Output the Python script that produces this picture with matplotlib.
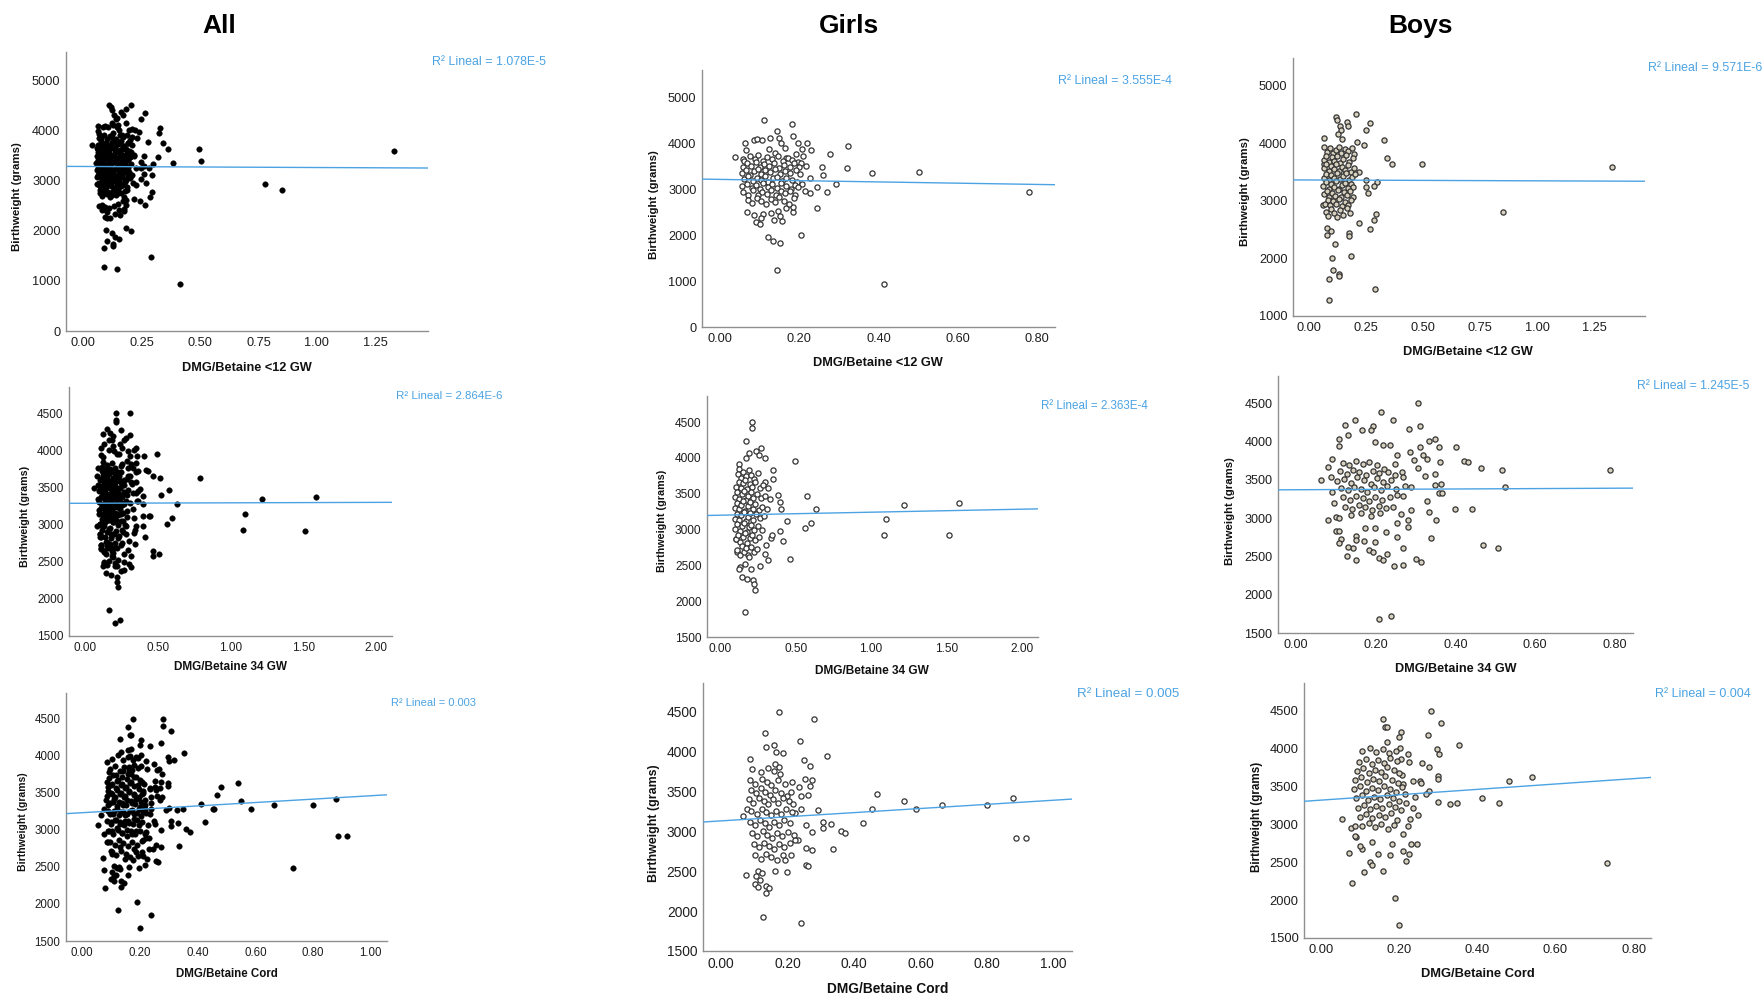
import matplotlib
matplotlib.use("Agg")
import matplotlib.pyplot as plt
import numpy as np

plt.rcParams['font.family'] = ['Liberation Sans', 'DejaVu Sans']

# ---------------- DATA ----------------
col_titles = ["All", "Girls", "Boys"]
x_labels = ["DMG/Betaine <12 GW", "DMG/Betaine 34 GW", "DMG/Betaine Cord"]
y_label = "Birthweight (grams)"

# Girls, <12 GW  (x = DMG/Betaine ratio, y = birthweight g)
girls_12 = [
    (0.112, 4500), (0.182, 4424), (0.143, 4252), (0.185, 4144), (0.324, 3942), (0.220, 4007),
    (0.231, 3856), (0.208, 3863), (0.278, 3763), (0.209, 3712), (0.038, 3698), (0.320, 3468),
    (0.258, 3489), (0.217, 3496), (0.384, 3353), (0.503, 3381), (0.261, 3295), (0.227, 3245),
    (0.294, 3108), (0.246, 3036), (0.270, 2942), (0.779, 2935), (0.227, 2914), (0.214, 2950),
    (0.244, 2597), (0.205, 1993), (0.122, 1950), (0.134, 1870), (0.151, 1827), (0.143, 1245),
    (0.413, 935), (0.069, 2496), (0.087, 2439), (0.091, 2273), (0.101, 2245), (0.109, 2460),
    (0.137, 2324), (0.157, 2309), (0.130, 2482), (0.147, 2525), (0.168, 2583), (0.185, 2511),
    (0.185, 2604), (0.152, 2410), (0.103, 2367), (0.063, 3993), (0.086, 4072), (0.094, 4079),
    (0.107, 4058), (0.126, 4108), (0.149, 4108), (0.155, 4007), (0.165, 3899), (0.196, 4007),
    (0.066, 3849), (0.124, 3863), (0.140, 3784), (0.193, 3755), (0.168, 3669), (0.059, 3648),
    (0.062, 3620), (0.075, 3710), (0.088, 3655), (0.097, 3740), (0.108, 3600), (0.118, 3690),
    (0.131, 3645), (0.146, 3720), (0.158, 3610), (0.171, 3680), (0.183, 3630), (0.196, 3595),
    (0.205, 3560), (0.058, 3480), (0.068, 3560), (0.079, 3510), (0.091, 3585), (0.101, 3470),
    (0.112, 3540), (0.124, 3495), (0.137, 3575), (0.149, 3455), (0.162, 3530), (0.176, 3490),
    (0.188, 3560), (0.199, 3470), (0.055, 3350), (0.066, 3420), (0.077, 3310), (0.086, 3385),
    (0.095, 3440), (0.105, 3330), (0.115, 3405), (0.127, 3360), (0.139, 3430), (0.152, 3320),
    (0.164, 3395), (0.178, 3345), (0.191, 3415), (0.203, 3335), (0.060, 3210), (0.071, 3280),
    (0.083, 3170), (0.093, 3245), (0.104, 3195), (0.113, 3290), (0.122, 3155), (0.134, 3230),
    (0.145, 3270), (0.157, 3180), (0.168, 3250), (0.181, 3205), (0.194, 3160), (0.207, 3110),
    (0.057, 3060), (0.069, 3120), (0.081, 3030), (0.090, 3095), (0.100, 3010), (0.110, 3140),
    (0.121, 3050), (0.132, 3100), (0.143, 3020), (0.155, 3135), (0.166, 3065), (0.179, 3005),
    (0.190, 3085), (0.198, 3040), (0.059, 2930), (0.072, 2880), (0.084, 2970), (0.096, 2860),
    (0.107, 2945), (0.119, 2895), (0.130, 2985), (0.141, 2870), (0.153, 2950), (0.165, 2905),
    (0.177, 2965), (0.189, 2875), (0.070, 2760), (0.082, 2690), (0.094, 2810), (0.103, 2730),
    (0.116, 2665), (0.128, 2790), (0.140, 2710), (0.150, 2830), (0.161, 2750), (0.174, 2680),
    (0.186, 2800),
]

# Boys, <12 GW
boys_12 = [
    (0.204, 4513), (0.119, 4456), (0.122, 4398), (0.163, 4364), (0.171, 4295), (0.265, 4341),
    (0.133, 4295), (0.140, 4226), (0.247, 4221), (0.125, 4152), (0.143, 4066), (0.329, 4054),
    (0.209, 4020), (0.239, 3968), (0.343, 3739), (0.363, 3636), (0.495, 3636), (1.329, 3590),
    (0.216, 3504), (0.247, 3361), (0.297, 3332), (0.247, 3246), (0.282, 3252), (0.258, 3132),
    (0.852, 2811), (0.293, 2765), (0.285, 2662), (0.216, 2622), (0.265, 2513), (0.079, 2404),
    (0.174, 2433), (0.174, 2387), (0.114, 2244), (0.181, 2049), (0.098, 2009), (0.102, 1802),
    (0.128, 1733), (0.128, 1688), (0.088, 1648), (0.288, 1470), (0.088, 1269), (0.064, 4095),
    (0.064, 3636), (0.061, 2931), (0.079, 2519), (0.095, 2473),
    (0.066, 3930), (0.078, 3850), (0.090, 3910), (0.103, 3820), (0.115, 3880), (0.128, 3940),
    (0.141, 3830), (0.156, 3900), (0.170, 3860), (0.186, 3915), (0.198, 3810), (0.064, 3700),
    (0.075, 3780), (0.087, 3670), (0.098, 3750), (0.110, 3690), (0.122, 3775), (0.135, 3660),
    (0.148, 3730), (0.161, 3790), (0.175, 3680), (0.190, 3740), (0.062, 3560), (0.072, 3630),
    (0.084, 3520), (0.095, 3600), (0.106, 3545), (0.118, 3640), (0.131, 3510), (0.144, 3585),
    (0.157, 3535), (0.169, 3620), (0.182, 3500), (0.195, 3570), (0.063, 3400), (0.074, 3470),
    (0.086, 3360), (0.097, 3440), (0.109, 3390), (0.120, 3485), (0.133, 3370), (0.146, 3430),
    (0.159, 3480), (0.172, 3355), (0.185, 3420), (0.199, 3465), (0.061, 3250), (0.073, 3320),
    (0.085, 3210), (0.096, 3290), (0.108, 3235), (0.119, 3340), (0.132, 3205), (0.145, 3275),
    (0.158, 3315), (0.171, 3220), (0.184, 3290), (0.193, 3245), (0.065, 3110), (0.077, 3170),
    (0.088, 3060), (0.100, 3140), (0.112, 3085), (0.125, 3190), (0.138, 3070), (0.151, 3150),
    (0.164, 3100), (0.178, 3175), (0.191, 3065), (0.068, 2950), (0.080, 3020), (0.092, 2920),
    (0.104, 2990), (0.117, 2940), (0.130, 3035), (0.143, 2910), (0.155, 2985), (0.168, 2930),
    (0.181, 3010), (0.071, 2800), (0.083, 2740), (0.094, 2860), (0.107, 2780), (0.121, 2720),
    (0.134, 2840), (0.148, 2760), (0.163, 2880), (0.177, 2790),
]

# Girls, 34 GW
girls_34 = [
    (0.212, 4500), (0.212, 4417), (0.172, 4237), (0.270, 4141), (0.239, 4094), (0.254, 4039),
    (0.298, 3993), (0.190, 4067), (0.168, 4002), (0.124, 3910), (0.124, 3850), (0.497, 3956),
    (0.347, 3827), (0.347, 3707), (0.294, 3661), (0.380, 3482), (0.575, 3463), (0.632, 3283),
    (0.398, 3385), (0.400, 3283), (1.218, 3343), (1.585, 3371), (1.096, 3150), (0.442, 3113),
    (0.599, 3090), (0.561, 3016), (0.398, 2984), (1.083, 2929), (1.514, 2919), (0.415, 2841),
    (0.338, 2887), (0.343, 2924), (0.305, 2786), (0.464, 2583), (0.316, 2574), (0.265, 2491),
    (0.298, 2657), (0.110, 2689), (0.133, 2482), (0.126, 2445), (0.141, 2344), (0.177, 2316),
    (0.166, 2514), (0.203, 2445), (0.217, 2293), (0.221, 2233), (0.228, 2155), (0.166, 1850),
    (0.104, 2873), (0.186, 2643),
    (0.115, 3780), (0.138, 3720), (0.152, 3800), (0.170, 3745), (0.188, 3830), (0.205, 3760),
    (0.226, 3710), (0.250, 3790), (0.102, 3600), (0.121, 3670), (0.135, 3580), (0.149, 3650),
    (0.163, 3690), (0.178, 3560), (0.195, 3630), (0.212, 3590), (0.232, 3660), (0.262, 3575),
    (0.285, 3620), (0.318, 3580), (0.098, 3450), (0.112, 3520), (0.126, 3420), (0.141, 3490),
    (0.156, 3540), (0.172, 3410), (0.186, 3470), (0.203, 3525), (0.219, 3435), (0.241, 3500),
    (0.268, 3440), (0.295, 3470), (0.330, 3430), (0.095, 3300), (0.108, 3370), (0.123, 3280),
    (0.137, 3340), (0.151, 3395), (0.166, 3265), (0.181, 3330), (0.197, 3380), (0.214, 3290),
    (0.233, 3350), (0.256, 3270), (0.280, 3320), (0.310, 3290), (0.097, 3150), (0.111, 3220),
    (0.125, 3130), (0.140, 3200), (0.155, 3245), (0.169, 3115), (0.184, 3180), (0.200, 3235),
    (0.218, 3140), (0.239, 3210), (0.262, 3160), (0.290, 3190), (0.100, 3010), (0.114, 3080),
    (0.129, 2980), (0.144, 3050), (0.159, 3095), (0.174, 2960), (0.190, 3030), (0.207, 3070),
    (0.225, 2990), (0.248, 3045), (0.275, 3000), (0.105, 2870), (0.119, 2930), (0.134, 2830),
    (0.148, 2900), (0.163, 2945), (0.178, 2815), (0.194, 2880), (0.211, 2920), (0.231, 2850),
    (0.258, 2895), (0.112, 2720), (0.128, 2650), (0.143, 2770), (0.158, 2690), (0.173, 2740),
    (0.189, 2620), (0.205, 2760), (0.223, 2680), (0.245, 2730),
]

# Boys, 34 GW
boys_34 = [
    (0.307, 4500), (0.213, 4384), (0.148, 4285), (0.245, 4276), (0.124, 4220), (0.194, 4199),
    (0.311, 4203), (0.166, 4143), (0.283, 4164), (0.131, 4087), (0.188, 4143), (0.199, 3992),
    (0.348, 4035), (0.333, 4005), (0.109, 4035), (0.311, 3928), (0.359, 3928), (0.402, 3923),
    (0.236, 3949), (0.219, 3958), (0.108, 3945), (0.286, 3855), (0.254, 3820), (0.319, 3820),
    (0.328, 3768), (0.296, 3760), (0.422, 3738), (0.431, 3725), (0.361, 3725), (0.090, 3768),
    (0.082, 3661), (0.250, 3708), (0.464, 3657), (0.516, 3626), (0.788, 3626), (0.307, 3657),
    (0.323, 3549), (0.349, 3571), (0.267, 3601), (0.268, 3540), (0.064, 3497), (0.088, 3536),
    (0.365, 3450), (0.349, 3429), (0.290, 3407), (0.275, 3424), (0.524, 3407), (0.359, 3321),
    (0.366, 3321), (0.254, 3295), (0.268, 3282), (0.091, 3342), (0.329, 3218), (0.097, 3192),
    (0.399, 3119), (0.443, 3119), (0.334, 3084), (0.290, 3106), (0.263, 3054), (0.082, 2977),
    (0.102, 3007), (0.110, 2998), (0.352, 2977), (0.282, 2977), (0.254, 2929), (0.282, 2878),
    (0.101, 2835), (0.108, 2835), (0.226, 2818), (0.175, 2869), (0.198, 2869), (0.254, 2757),
    (0.340, 2740), (0.113, 2727), (0.151, 2770), (0.110, 2671), (0.151, 2710), (0.172, 2706),
    (0.199, 2684), (0.470, 2650), (0.507, 2607), (0.268, 2607), (0.144, 2607), (0.131, 2628),
    (0.183, 2581), (0.194, 2559), (0.228, 2529), (0.209, 2482), (0.218, 2447), (0.128, 2503),
    (0.152, 2456), (0.302, 2469), (0.315, 2426), (0.247, 2374), (0.270, 2387), (0.208, 1677),
    (0.239, 1716),
    (0.118, 3720), (0.135, 3690), (0.152, 3745), (0.170, 3705), (0.185, 3730), (0.205, 3690),
    (0.222, 3640), (0.112, 3610), (0.128, 3580), (0.143, 3630), (0.160, 3600), (0.176, 3560),
    (0.193, 3620), (0.210, 3585), (0.232, 3600), (0.248, 3560), (0.105, 3480), (0.122, 3510),
    (0.138, 3460), (0.155, 3530), (0.171, 3490), (0.188, 3450), (0.203, 3520), (0.220, 3470),
    (0.240, 3500), (0.115, 3390), (0.131, 3360), (0.147, 3410), (0.163, 3380), (0.180, 3340),
    (0.196, 3400), (0.213, 3365), (0.230, 3420), (0.252, 3380), (0.120, 3270), (0.136, 3240),
    (0.152, 3290), (0.168, 3260), (0.184, 3220), (0.200, 3280), (0.217, 3235), (0.236, 3270),
    (0.125, 3150), (0.142, 3120), (0.158, 3170), (0.175, 3140), (0.191, 3100), (0.208, 3160),
    (0.226, 3125), (0.245, 3150), (0.140, 3040), (0.165, 3070), (0.190, 3030), (0.212, 3060),
]

# Girls, cord
girls_cord = [
    (0.175, 4496), (0.280, 4409), (0.132, 4230), (0.236, 4131), (0.160, 4085), (0.134, 4056),
    (0.317, 3948), (0.085, 3911), (0.249, 3890), (0.267, 3820), (0.186, 3981), (0.166, 3998),
    (0.161, 3844), (0.173, 3811), (0.253, 3662), (0.272, 3641), (0.213, 3620), (0.268, 3567),
    (0.234, 3554), (0.467, 3475), (0.260, 3459), (0.240, 3446), (0.879, 3417), (0.551, 3384),
    (0.664, 3334), (0.799, 3334), (0.452, 3284), (0.586, 3276), (0.290, 3268), (0.239, 3276),
    (0.221, 3226), (0.427, 3106), (0.307, 3114), (0.307, 3048), (0.331, 3089), (0.254, 3077),
    (0.273, 2998), (0.360, 3010), (0.373, 2977), (0.887, 2915), (0.917, 2923), (0.231, 2894),
    (0.221, 2886), (0.256, 2791), (0.273, 2766), (0.335, 2778), (0.209, 2703), (0.193, 2641),
    (0.256, 2575), (0.262, 2567), (0.197, 2488), (0.162, 2504), (0.074, 2455), (0.110, 2508),
    (0.122, 2484), (0.105, 2438), (0.116, 2396), (0.101, 2338), (0.109, 2305), (0.134, 2309),
    (0.145, 2284), (0.134, 2226), (0.125, 1923), (0.240, 1845), (0.066, 3197), (0.077, 3280),
    (0.092, 3780), (0.118, 3740), (0.140, 3790), (0.158, 3760), (0.178, 3720), (0.085, 3640),
    (0.101, 3600), (0.122, 3660), (0.137, 3620), (0.151, 3580), (0.170, 3640), (0.192, 3600),
    (0.088, 3520), (0.104, 3480), (0.119, 3540), (0.133, 3500), (0.148, 3460), (0.163, 3520),
    (0.179, 3480), (0.197, 3450), (0.210, 3500), (0.082, 3400), (0.096, 3360), (0.112, 3420),
    (0.127, 3380), (0.141, 3340), (0.156, 3400), (0.171, 3360), (0.186, 3420), (0.203, 3380),
    (0.217, 3340), (0.090, 3260), (0.106, 3220), (0.121, 3280), (0.135, 3240), (0.150, 3200),
    (0.165, 3260), (0.181, 3220), (0.196, 3280), (0.212, 3240), (0.086, 3120), (0.100, 3080),
    (0.115, 3140), (0.130, 3100), (0.145, 3060), (0.160, 3120), (0.175, 3080), (0.190, 3140),
    (0.206, 3100), (0.093, 2980), (0.108, 2940), (0.124, 3000), (0.139, 2960), (0.154, 2920),
    (0.169, 2980), (0.184, 2940), (0.200, 2990), (0.218, 2950), (0.097, 2840), (0.113, 2800),
    (0.128, 2860), (0.143, 2820), (0.158, 2780), (0.174, 2840), (0.190, 2800), (0.208, 2850),
    (0.102, 2700), (0.118, 2660), (0.135, 2720), (0.151, 2680), (0.167, 2640), (0.186, 2700),
]

# Boys, cord
boys_cord = [
    (0.281, 4500), (0.159, 4391), (0.308, 4330), (0.165, 4286), (0.170, 4286), (0.204, 4216),
    (0.274, 4172), (0.199, 4151), (0.354, 4041), (0.169, 4089), (0.203, 4011), (0.298, 3989),
    (0.301, 3928), (0.222, 3928), (0.205, 3867), (0.226, 3827), (0.259, 3806), (0.276, 3758),
    (0.207, 3648), (0.299, 3631), (0.299, 3596), (0.539, 3627), (0.481, 3574), (0.236, 3566),
    (0.254, 3574), (0.257, 3544), (0.210, 3526), (0.277, 3443), (0.269, 3404), (0.411, 3347),
    (0.348, 3282), (0.330, 3273), (0.455, 3286), (0.300, 3299), (0.216, 3400), (0.240, 3360),
    (0.219, 3277), (0.236, 3220), (0.248, 3116), (0.229, 3068), (0.055, 3068), (0.222, 2976),
    (0.210, 2867), (0.230, 2736), (0.245, 2744), (0.181, 2744), (0.210, 2644), (0.225, 2605),
    (0.219, 2522), (0.176, 2600), (0.147, 2605), (0.072, 2627), (0.126, 2504), (0.130, 2469),
    (0.111, 2373), (0.159, 2387), (0.079, 2220), (0.190, 2033), (0.199, 1670), (0.731, 2491),
    (0.077, 2950), (0.088, 2980), (0.091, 2832), (0.087, 2841), (0.104, 2679), (0.101, 2710),
    (0.130, 2771),
    (0.105, 3960), (0.125, 4010), (0.140, 3950), (0.158, 3990), (0.175, 3940), (0.193, 3970),
    (0.098, 3820), (0.115, 3860), (0.130, 3800), (0.146, 3850), (0.162, 3810), (0.178, 3870),
    (0.195, 3830), (0.092, 3700), (0.108, 3740), (0.123, 3680), (0.139, 3720), (0.154, 3690),
    (0.170, 3750), (0.186, 3710), (0.200, 3670), (0.088, 3580), (0.103, 3620), (0.118, 3560),
    (0.134, 3600), (0.149, 3570), (0.165, 3630), (0.181, 3590), (0.197, 3550), (0.085, 3460),
    (0.100, 3500), (0.115, 3440), (0.131, 3480), (0.146, 3450), (0.162, 3510), (0.178, 3470),
    (0.193, 3430), (0.208, 3490), (0.090, 3340), (0.106, 3380), (0.121, 3320), (0.137, 3360),
    (0.152, 3330), (0.168, 3390), (0.184, 3350), (0.199, 3310), (0.095, 3220), (0.111, 3260),
    (0.126, 3200), (0.142, 3240), (0.157, 3210), (0.173, 3270), (0.189, 3230), (0.205, 3190),
    (0.100, 3100), (0.116, 3140), (0.132, 3080), (0.148, 3120), (0.163, 3090), (0.180, 3150),
    (0.196, 3060), (0.105, 2980), (0.122, 3020), (0.138, 2960), (0.155, 3000), (0.172, 2940),
    (0.188, 2990),
]

# fit lines (intercept, slope) and R² labels, panel order: rows (<12, 34, cord) x cols (All, Girls, Boys)
fit_intercept = [3279, 3210, 3360, 3289, 3200, 3369, 3232, 3132, 3318]
fit_slope = [-21, -137, -15, 6, 42, 25, 229, 259, 355]
r2_labels = ["R² Lineal = 1.078E-5", "R² Lineal = 3.555E-4", "R² Lineal = 9.571E-6",
             "R² Lineal = 2.864E-6", "R² Lineal = 2.363E-4", "R² Lineal = 1.245E-5",
             "R² Lineal = 0.003", "R² Lineal = 0.005", "R² Lineal = 0.004"]

# ---------------- LAYOUT ----------------
W, H = 1764, 998
fig = plt.figure(figsize=(W / 100, H / 100), dpi=100)
fig.patch.set_facecolor("white")


def rect(x0, y0, x1, y1):
    return [x0 / W, 1 - y1 / H, (x1 - x0) / W, (y1 - y0) / H]


datasets = [
    girls_12 + boys_12, girls_12, boys_12,
    girls_34 + boys_34, girls_34, boys_34,
    girls_cord + boys_cord, girls_cord, boys_cord,
]

panels = [
    dict(box=(66, 52, 428, 331), xlim=(-0.074, 1.476), ylim=(0, 5560), xt=np.arange(0, 1.26, 0.25), yt=np.arange(0, 5001, 1000),
         xl=(247, 368), yl=(17, 197), r2=(432, 62), fs=9.2),
    dict(box=(702, 70, 1055, 327), xlim=(-0.045, 0.845), ylim=(0, 5589), xt=np.arange(0, 0.81, 0.2), yt=np.arange(0, 5001, 1000),
         xl=(878, 363), yl=(654, 205), r2=(1058, 81), fs=9.2),
    dict(box=(1293, 58, 1645, 316), xlim=(-0.072, 1.474), ylim=(1000, 5476), xt=np.arange(0, 1.26, 0.25), yt=np.arange(1000, 5001, 1000),
         xl=(1468, 352), yl=(1245, 192), r2=(1648, 68), fs=9.2),
    dict(box=(69, 387, 392, 636), xlim=(-0.11, 2.108), ylim=(1500, 4856), xt=np.arange(0, 2.01, 0.5), yt=np.arange(1500, 4501, 500),
         xl=(230, 667), yl=(25, 516), r2=(396, 396), fs=8.5),
    dict(box=(707, 396, 1038, 637), xlim=(-0.088, 2.107), ylim=(1500, 4864), xt=np.arange(0, 2.01, 0.5), yt=np.arange(1500, 4501, 500),
         xl=(872, 671), yl=(662, 521), r2=(1041, 406), fs=8.6),
    dict(box=(1278, 376, 1633, 633), xlim=(-0.044, 0.845), ylim=(1500, 4853), xt=np.arange(0, 0.81, 0.2), yt=np.arange(1500, 4501, 500),
         xl=(1456, 669), yl=(1230, 511), r2=(1637, 386), fs=9.1),
    dict(box=(66, 693, 387, 941), xlim=(-0.056, 1.056), ylim=(1500, 4848), xt=np.arange(0, 1.01, 0.2), yt=np.arange(1500, 4501, 500),
         xl=(227, 974), yl=(23, 822), r2=(391, 703), fs=8.3),
    dict(box=(703, 683, 1072, 951), xlim=(-0.055, 1.055), ylim=(1500, 4861), xt=np.arange(0, 1.01, 0.2), yt=np.arange(1500, 4501, 500),
         xl=(888, 989), yl=(654, 823), r2=(1077, 694), fs=9.9),
    dict(box=(1304, 683, 1651, 938), xlim=(-0.043, 0.844), ylim=(1500, 4863), xt=np.arange(0, 0.81, 0.2), yt=np.arange(1500, 4501, 500),
         xl=(1478, 974), yl=(1257, 817), r2=(1655, 694), fs=9.3),
]

line_color = "#4ba3e3"
styles = [
    dict(s=16, c="black", edgecolors="black", linewidths=0.3),
    dict(s=14, c="white", edgecolors="#333333", linewidths=0.9),
    dict(s=14, c="#d8d1bf", edgecolors="#333333", linewidths=0.9),
]

for i, (pts, p) in enumerate(zip(datasets, panels)):
    col = i % 3
    row = i // 3
    ax = fig.add_axes(rect(*p["box"]))
    arr = np.array(pts, dtype=float)
    ax.scatter(arr[:, 0], arr[:, 1], zorder=3, **styles[col])
    xs = np.array(p["xlim"])
    ax.plot(xs, fit_intercept[i] + fit_slope[i] * xs, color=line_color, lw=1.0, zorder=4)
    ax.set_xlim(*p["xlim"])
    ax.set_ylim(*p["ylim"])
    ax.set_xticks(p["xt"])
    ax.set_xticklabels([f"{v:.2f}" for v in p["xt"]])
    ax.set_yticks(p["yt"])
    ax.set_yticklabels([f"{int(v)}" for v in p["yt"]])
    for side in ("top", "right"):
        ax.spines[side].set_visible(False)
    for side in ("left", "bottom"):
        ax.spines[side].set_color("#8f8f8f")
        ax.spines[side].set_linewidth(1.0)
    ax.tick_params(length=0, labelsize=p["fs"], colors="#1e1e1e", pad=4)
    ax.set_facecolor("white")
    fs = p["fs"]
    fig.text(p["xl"][0] / W, 1 - p["xl"][1] / H, x_labels[row], ha="center", va="center",
             fontsize=fs, fontweight="bold", color="#111111")
    fig.text(p["yl"][0] / W, 1 - p["yl"][1] / H, y_label, ha="center", va="center",
             rotation=90, fontsize=fs * 0.9, fontweight="bold", color="#111111")
    fig.text(p["r2"][0] / W, 1 - p["r2"][1] / H, r2_labels[i], ha="left", va="center",
             fontsize=fs * 0.97, color=line_color)

title_pos = [(219, 26), (849, 26), (1420, 26)]
for t, (tx, ty) in zip(col_titles, title_pos):
    fig.text(tx / W, 1 - ty / H, t, ha="center", va="center", fontsize=19, fontweight="bold", color="black")

fig.savefig("out.png", dpi=100, facecolor="white")
